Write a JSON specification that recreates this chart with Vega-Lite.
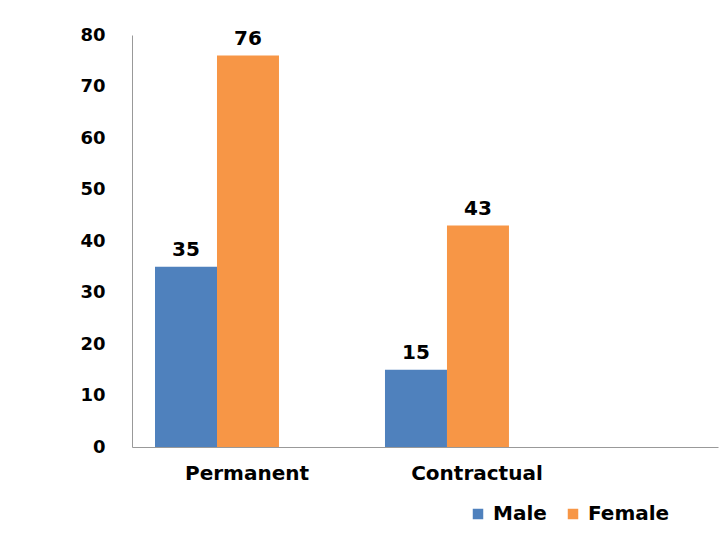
{
  "$schema": "https://vega.github.io/schema/vega-lite/v6.json",
  "autosize": {"type": "none"},
  "padding": {"left": 132, "top": 35, "right": 10, "bottom": 89},
  "width": 586,
  "height": 412,
  "background": "white",
  "data": {"values": [
    {"type": "Permanent", "gender": "Male", "value": 35},
    {"type": "Permanent", "gender": "Female", "value": 76},
    {"type": "Contractual", "gender": "Male", "value": 15},
    {"type": "Contractual", "gender": "Female", "value": 43}
  ]},
  "encoding": {
    "x": {"field": "type", "type": "nominal", "sort": ["Permanent", "Contractual"],
      "scale": {"paddingInner": 0, "paddingOuter": 0.274, "align": 0},
      "axis": {"title": null, "labelAngle": 0, "ticks": false, "domainColor": "#999", "labelFont": "DejaVu Sans", "labelFontWeight": "bold", "labelFontSize": 20, "labelColor": "black", "labelPadding": 16}},
    "xOffset": {"field": "gender", "type": "nominal", "sort": ["Male", "Female"],
      "scale": {"paddingInner": 0, "paddingOuter": 0.855, "align": 0.217}},
    "y": {"field": "value", "type": "quantitative",
      "scale": {"domain": [0, 80]},
      "axis": {"title": null, "grid": false, "ticks": false, "values": [0,10,20,30,40,50,60,70,80], "labelOverlap": false, "labelBound": false, "labelFlush": false, "domainColor": "#999", "labelFont": "DejaVu Sans", "labelFontWeight": "bold", "labelFontSize": 18, "labelColor": "black", "labelPadding": 27}}
  },
  "layer": [
    {"mark": {"type": "bar"},
     "encoding": {
       "color": {"field": "gender", "type": "nominal", "sort": ["Male", "Female"],
         "scale": {"domain": ["Male", "Female"], "range": ["#4F81BD", "#F79646"]},
         "legend": {"title": null, "orient": "none", "legendX": 336, "legendY": 469, "direction": "horizontal",
           "symbolType": "square", "symbolSize": 110, "symbolStrokeWidth": 0, "labelFont": "DejaVu Sans", "labelFontWeight": "bold", "labelFontSize": 20, "labelColor": "black", "columnPadding": 16, "labelOffset": 5}}
     }},
    {"mark": {"type": "text", "dy": -7, "baseline": "bottom", "font": "DejaVu Sans", "fontWeight": "bold", "fontSize": 20, "color": "black"},
     "encoding": {"text": {"field": "value", "type": "quantitative"}}}
  ],
  "config": {"view": {"stroke": null}}
}
